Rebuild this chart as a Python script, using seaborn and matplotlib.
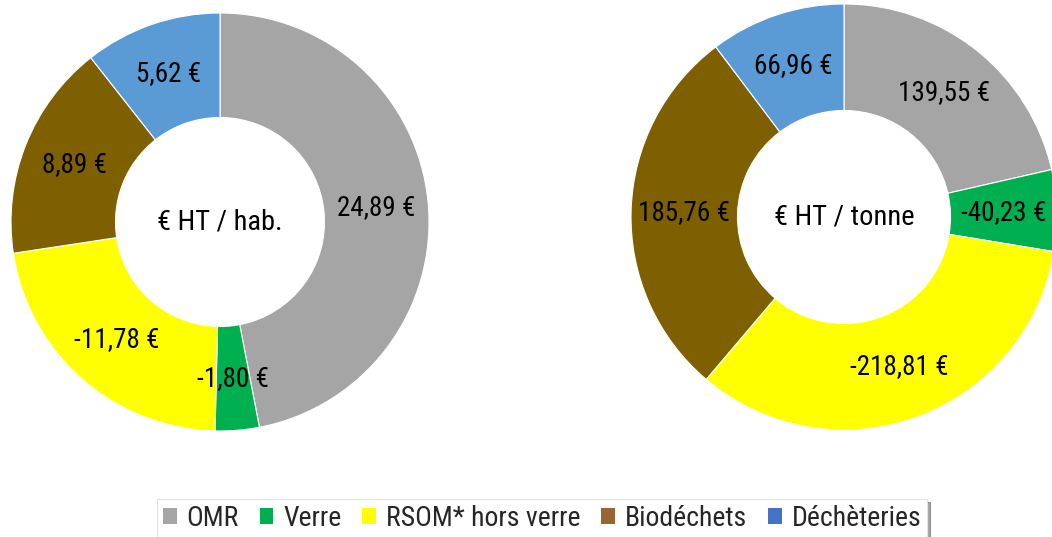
import matplotlib
matplotlib.use("Agg")
import matplotlib.pyplot as plt
from matplotlib.patches import Patch
import seaborn as sns

# Cost breakdown per waste stream
categories = ["OMR", "Verre", "RSOM* hors verre", "Biodéchets", "Déchèteries"]
per_inhabitant = [24.89, -1.80, -11.78, 8.89, 5.62]
per_tonne = [139.55, -40.23, -218.81, 185.76, 66.96]
centre_titles = ["€ HT / hab.", "€ HT / tonne"]

slice_colors = ["#A5A5A5", "#00B050", "#FFFF00", "#7F6000", "#5B9BD5"]
legend_colors = ["#A5A5A5", "#00B050", "#FFFF00", "#996633", "#4472C4"]

sns.set_theme(style="white")
plt.rcParams["font.family"] = ["Liberation Sans Narrow", "Roboto Condensed", "DejaVu Sans"]

W, H = 1052, 537
fig = plt.figure(figsize=(W / 100, H / 100), dpi=100)


def fmt(v):
    return f"{v:.2f}".replace(".", ",") + " €"


def donut(cx, cy, r, values, title):
    ax = fig.add_axes([(cx - r) / W, (H - cy - r) / H, 2 * r / W, 2 * r / H])
    sizes = [abs(v) for v in values]
    labels = [fmt(v) for v in values]
    wedges, texts = ax.pie(
        sizes, colors=slice_colors, startangle=90, counterclock=False,
        labels=labels, labeldistance=0.75, radius=1.0,
        wedgeprops=dict(width=0.5, edgecolor="white", linewidth=0.8),
        textprops=dict(fontsize=19.5, color="black"),
    )
    for t in texts:
        t.set_horizontalalignment("center")
        t.set_verticalalignment("center")
    ax.text(0, 0, title, ha="center", va="center", fontsize=20.5, color="black")
    ax.set_xlim(-1, 1)
    ax.set_ylim(-1, 1)
    ax.set_aspect("equal")
    ax.axis("off")
    return ax


donut(220, 222, 209, per_inhabitant, centre_titles[0])
donut(844, 217, 213, per_tonne, centre_titles[1])

handles = [Patch(facecolor=c, edgecolor="none") for c in legend_colors]
leg = fig.legend(
    handles, categories, loc="center", bbox_to_anchor=(542 / W, 1 - 518 / H),
    ncol=5, fontsize=20, frameon=True, shadow=True, fancybox=False,
    handlelength=0.5, handleheight=0.5, handletextpad=0.35, columnspacing=0.75,
    borderpad=0.2, edgecolor="#E3E3E3",
)
leg.get_frame().set_linewidth(0.8)

fig.savefig("out.png", dpi=100, facecolor="white")
